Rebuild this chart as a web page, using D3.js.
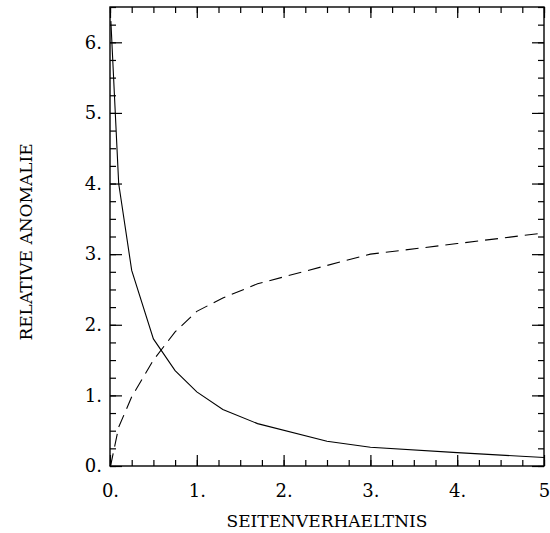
<!DOCTYPE html>
<html>
<head>
<meta charset="utf-8">
<script src="https://d3js.org/d3.v7.min.js"></script>
<style>
body { margin: 0; background: #fff; }
</style>
</head>
<body>
<script>
var w = 550;
var h = 533;

// aspect ratio values (x) and the two curves
var ratios   = [0.01, 0.1, 0.25, 0.5, 0.75, 1.0, 1.3, 1.7, 2.5, 3.0, 4.0, 5.0];
var solidVals  = [6.3, 4.0, 2.77, 1.8, 1.35, 1.05, 0.8, 0.6, 0.35, 0.265, 0.19, 0.12];
var dashedVals = [0.02, 0.55, 0.98, 1.5, 1.9, 2.19, 2.38, 2.58, 2.84, 3.0, 3.15, 3.3];

var xTicks = [0, 1, 2, 3, 4, 5];
var xTickLabels = ["0.", "1.", "2.", "3.", "4.", "5"];
var yTicks = [0, 1, 2, 3, 4, 5, 6];
var yTickLabels = ["0.", "1.", "2.", "3.", "4.", "5.", "6."];

var xTitle = "SEITENVERHAELTNIS";
var yTitle = "RELATIVE ANOMALIE";

var margin = {left: 110, right: 6, top: 7, bottom: 67};

var svg = d3.select("body")
    .append("svg")
    .attr("width", w)
    .attr("height", h);

var xScale = d3.scaleLinear()
    .domain([0, 5])
    .range([margin.left, w - margin.right]);

var yScale = d3.scaleLinear()
    .domain([0, 6.5])
    .range([h - margin.bottom, margin.top]);

var font = "DejaVu Serif";

// minor ticks (every 0.25) on all four sides
var xMinor = d3.range(0, 5.0001, 0.25);
var yMinor = d3.range(0, 6.5001, 0.25);

function styleAxis(g) {
    g.select(".domain").remove();
    g.selectAll("line").attr("stroke", "#000").attr("stroke-width", 1.2);
    g.selectAll("text")
        .attr("font-family", font)
        .attr("font-size", 18)
        .attr("fill", "#000");
}

var H = h - margin.bottom;
var R = w - margin.right;

svg.append("g")
    .attr("transform", "translate(0," + H + ")")
    .call(d3.axisBottom(xScale).tickValues(xMinor).tickSize(-6).tickFormat(""))
    .call(styleAxis);
svg.append("g")
    .attr("transform", "translate(0," + margin.top + ")")
    .call(d3.axisTop(xScale).tickValues(xMinor).tickSize(-6).tickFormat(""))
    .call(styleAxis);
svg.append("g")
    .attr("transform", "translate(" + margin.left + ",0)")
    .call(d3.axisLeft(yScale).tickValues(yMinor).tickSize(-6).tickFormat(""))
    .call(styleAxis);
svg.append("g")
    .attr("transform", "translate(" + R + ",0)")
    .call(d3.axisRight(yScale).tickValues(yMinor).tickSize(-6).tickFormat(""))
    .call(styleAxis);

// major ticks with labels
svg.append("g")
    .attr("transform", "translate(0," + H + ")")
    .call(d3.axisBottom(xScale).tickValues(xTicks).tickSize(-11).tickPadding(18)
        .tickFormat(function(d, i) { return xTickLabels[i]; }))
    .call(styleAxis);
svg.append("g")
    .attr("transform", "translate(0," + margin.top + ")")
    .call(d3.axisTop(xScale).tickValues(xTicks).tickSize(-11).tickFormat(""))
    .call(styleAxis);
svg.append("g")
    .attr("transform", "translate(" + margin.left + ",0)")
    .call(d3.axisLeft(yScale).tickValues(yTicks).tickSize(-12).tickPadding(8)
        .tickFormat(function(d, i) { return yTickLabels[i]; }))
    .call(styleAxis);
svg.append("g")
    .attr("transform", "translate(" + R + ",0)")
    .call(d3.axisRight(yScale).tickValues(yTicks).tickSize(-12).tickFormat(""))
    .call(styleAxis);

// frame
svg.append("rect")
    .attr("x", margin.left)
    .attr("y", margin.top)
    .attr("width", R - margin.left)
    .attr("height", H - margin.top)
    .attr("fill", "none")
    .attr("stroke", "#000")
    .attr("stroke-width", 1.4);

var line = d3.line()
    .x(function(d) { return xScale(d[0]); })
    .y(function(d) { return yScale(d[1]); });

svg.append("path")
    .datum(d3.zip(ratios, solidVals))
    .attr("d", line)
    .attr("fill", "none")
    .attr("stroke", "#000")
    .attr("stroke-width", 1.1);

svg.append("path")
    .datum([[0, 0]].concat(d3.zip(ratios, dashedVals)))
    .attr("d", line)
    .attr("fill", "none")
    .attr("stroke", "#000")
    .attr("stroke-width", 1.1)
    .attr("stroke-dasharray", "13,7");

// axis titles
svg.append("text")
    .attr("x", (margin.left + R) / 2)
    .attr("y", 527)
    .attr("text-anchor", "middle")
    .attr("font-family", font)
    .attr("font-size", 17)
    .text(xTitle);

svg.append("text")
    .attr("transform", "translate(32," + 242 + ") rotate(-90)")
    .attr("text-anchor", "middle")
    .attr("font-family", font)
    .attr("font-size", 17)
    .text(yTitle);
</script>
</body>
</html>
